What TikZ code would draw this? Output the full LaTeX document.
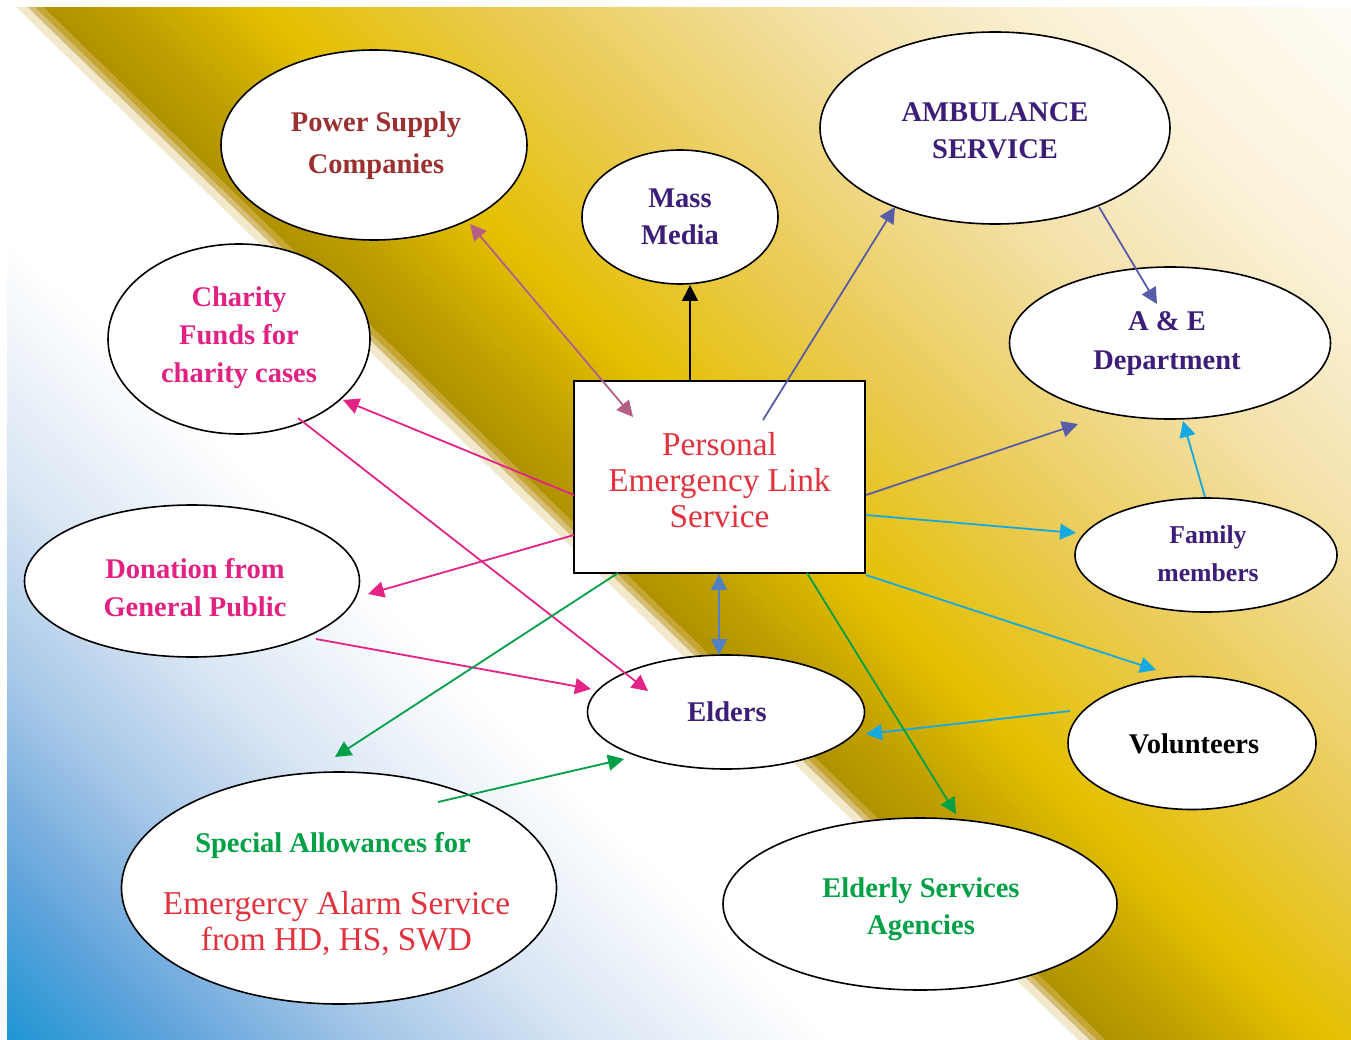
\documentclass[tikz,border=0pt]{standalone}
\usepackage{fontspec}
\setmainfont{Liberation Serif}
\usetikzlibrary{shapes.geometric,arrows.meta}

% text colours
\definecolor{cBrown}{RGB}{155,48,48}
\definecolor{cPurple}{RGB}{60,30,120}
\definecolor{cMagenta}{RGB}{226,34,130}
\definecolor{cGreen}{RGB}{0,160,70}
\definecolor{cRed}{RGB}{225,50,62}
% connector colours
\definecolor{aMauve}{RGB}{180,95,135}
\definecolor{aSlate}{RGB}{88,92,168}
\definecolor{aCyan}{RGB}{20,170,225}
\definecolor{aMag}{RGB}{228,35,135}
\definecolor{aBlue}{RGB}{82,128,196}
\definecolor{aGreen}{RGB}{0,160,70}
% background colours
\definecolor{b1}{RGB}{218,230,244}
\definecolor{b2}{RGB}{168,200,232}
\definecolor{b3}{RGB}{100,165,220}
\definecolor{b4}{RGB}{0,143,208}
\definecolor{e1}{RGB}{242,232,204}
\definecolor{e2}{RGB}{214,190,120}
\definecolor{e3}{RGB}{196,166,50}
\definecolor{g0}{RGB}{176,146,0}
\definecolor{g1}{RGB}{190,158,0}
\definecolor{g2}{RGB}{228,192,0}
\definecolor{g3}{RGB}{234,202,80}
\definecolor{g4}{RGB}{244,226,172}
\definecolor{g5}{RGB}{250,241,215}
\definecolor{g6}{RGB}{255,254,250}

% #1 start v, #2 end v, #3 start colour, #4 end colour, #5 steps, #6 overlap
\newcommand{\gradband}[6]{%
  \foreach \gi in {1,...,#5}{%
    \pgfmathsetmacro\gva{(#1)+((#2)-(#1))*(\gi-1)/#5}%
    \pgfmathsetmacro\gvb{(#1)+((#2)-(#1))*\gi/#5+(#6)}%
    \pgfmathtruncatemacro\gp{100*(\gi-0.5)/#5}%
    \fill[#4!\gp!#3] (-2500pt,\gva pt) rectangle (2500pt,\gvb pt);
  }}

\begin{document}
\begin{tikzpicture}[x=1pt,y=-1pt,
  oval/.style={ellipse,draw=black,line width=1.6pt,fill=white,inner sep=0pt},
  pelsbox/.style={rectangle,draw=black,line width=1.6pt,fill=white,inner sep=0pt,
    minimum width=291pt,minimum height=192pt},
  lbl/.style={font=\fontsize{28.5}{#1}\selectfont\bfseries,align=center,inner sep=0pt},
  famlbl/.style={font=\fontsize{25.7}{#1}\selectfont\bfseries,align=center,inner sep=0pt},
  reglbl/.style={font=\fontsize{33.3}{#1}\selectfont,align=center,inner sep=0pt},
  conn/.style={line width=1.8pt,-{Triangle[length=16pt,width=16pt]}},
  biconn/.style={line width=1.8pt,{Triangle[length=16pt,width=16pt]}-{Triangle[length=16pt,width=16pt]}}
]
\useasboundingbox (0,0) rectangle (1351,1040);
\fill[white] (0,0) rectangle (1351,1040);

% ---------- background ----------
\begin{scope}
\clip (7,8) rectangle (1351,1040);
\begin{scope}[shift={(17,8)},rotate=-44.2]
  \fill[white] (-2500pt,-1300pt) rectangle (2500pt,0pt);
  \gradband{-170}{-340}{white}{b1}{40}{-1}
  \gradband{-340}{-480}{b1}{b2}{35}{-1}
  \gradband{-480}{-620}{b2}{b3}{35}{-1}
  \gradband{-620}{-800}{b3}{b4}{45}{-1}
  \fill[b4] (-2500pt,-799pt) rectangle (2500pt,-1300pt);
  \fill[e1] (-2500pt,0pt) rectangle (2500pt,8pt);
  \fill[e2] (-2500pt,8pt) rectangle (2500pt,13pt);
  \fill[e3] (-2500pt,13pt) rectangle (2500pt,19pt);
  \gradband{19}{70}{g0}{g1}{15}{1}
  \gradband{70}{170}{g1}{g2}{30}{1}
  \gradband{170}{330}{g2}{g3}{40}{1}
  \gradband{330}{560}{g3}{g4}{55}{1}
  \gradband{560}{720}{g4}{g5}{40}{1}
  \gradband{720}{960}{g5}{g6}{50}{1}
  \fill[g6] (-2500pt,959pt) rectangle (2500pt,1500pt);
\end{scope}
\end{scope}

% ---------- nodes ----------
\node[oval,minimum width=306pt,minimum height=190pt] (psc) at (374,145) {};
\node[oval,minimum width=196pt,minimum height=134pt] (mass) at (680,217) {};
\node[oval,minimum width=350pt,minimum height=192pt] (amb) at (995,128) {};
\node[oval,minimum width=321pt,minimum height=152pt] (ae) at (1170,343) {};
\node[oval,minimum width=262pt,minimum height=190pt] (charity) at (239,339) {};
\node[oval,minimum width=335pt,minimum height=152pt] (donation) at (192,581) {};
\node[oval,minimum width=262pt,minimum height=114pt] (family) at (1206,555) {};
\node[oval,minimum width=277pt,minimum height=114pt] (elders) at (726,712) {};
\node[oval,minimum width=248pt,minimum height=133pt] (vol) at (1192,743) {};
\node[oval,minimum width=435pt,minimum height=232pt] (special) at (339,888) {};
\node[oval,minimum width=394pt,minimum height=172pt] (elderly) at (920,904) {};
\node[pelsbox] (pels) at (719.5,477) {};

% ---------- texts ----------
\node[lbl=42,text=cBrown] (psct) at (376,146) {Power Supply\\Companies};
\node[lbl=37,text=cPurple] (masst) at (680,217) {Mass\\Media};
\node[lbl=37,text=cPurple] (ambt) at (995,131) {AMBULANCE\\SERVICE};
\node[lbl=39,text=cPurple] (aet) at (1167,344) {A \& E\\Department};
\node[lbl=38,text=cMagenta] (charityt) at (239,338) {Charity\\Funds for\\charity cases};
\node[lbl=38,text=cMagenta] (donationt) at (195,588) {Donation from\\General Public};
\node[famlbl=38,text=cPurple] (familyt) at (1208,554) {Family\\members};
\node[lbl=38,text=cPurple] (elderst) at (727,712) {Elders};
\node[lbl=38,text=black] (volt) at (1194,744) {Volunteers};
\node[lbl=38,text=cGreen] (specialt) at (333,845) {Special Allowances for};
\node[reglbl=36,text=cRed] (specialtb) at (336.5,923) {Emergercy Alarm Service\\from HD, HS, SWD};
\node[lbl=37,text=cGreen] (elderlyt) at (921,909) {Elderly Services\\Agencies};
\node[reglbl=36,text=cRed] (pelst) at (719.5,480) {Personal\\Emergency Link\\Service};

% ---------- connector ends ----------
\coordinate (psc-a) at (470,224);
\coordinate (pels-a) at (633,417);
\coordinate (pels-top) at (690,381);
\coordinate (mass-a) at (690,285);
\coordinate (pels-b) at (763,420);
\coordinate (amb-a) at (895,207);
\coordinate (amb-b) at (1099,207);
\coordinate (ae-a) at (1157,304);
\coordinate (pels-e1) at (866,495);
\coordinate (ae-b) at (1078,424);
\coordinate (family-a) at (1205,497);
\coordinate (ae-c) at (1183,421);
\coordinate (pels-e2) at (866,515);
\coordinate (family-b) at (1076,533);
\coordinate (pels-e3) at (866,575);
\coordinate (vol-a) at (1156,670);
\coordinate (vol-b) at (1070,711);
\coordinate (elders-a) at (866,734);
\coordinate (pels-w1) at (574,495);
\coordinate (charity-a) at (343,400);
\coordinate (charity-b) at (298,418);
\coordinate (elders-b) at (648,691);
\coordinate (pels-w2) at (574,535);
\coordinate (donation-a) at (368,594);
\coordinate (donation-b) at (316,639);
\coordinate (elders-c) at (591,689);
\coordinate (pels-s1) at (719,574);
\coordinate (elders-top) at (719,655);
\coordinate (pels-s2) at (618,573);
\coordinate (special-a) at (335,757);
\coordinate (special-b) at (438,802);
\coordinate (elders-d) at (624,759);
\coordinate (pels-s3) at (807,573);
\coordinate (elderly-a) at (956,814);

% ---------- connectors ----------
\draw[biconn,aMauve] (psc-a) -- (pels-a);
\draw[conn,black] (pels-top) -- (mass-a);
\draw[conn,aSlate] (pels-b) -- (amb-a);
\draw[conn,aSlate] (amb-b) -- (ae-a);
\draw[conn,aSlate] (pels-e1) -- (ae-b);
\draw[conn,aCyan] (family-a) -- (ae-c);
\draw[conn,aCyan] (pels-e2) -- (family-b);
\draw[conn,aCyan] (pels-e3) -- (vol-a);
\draw[conn,aCyan] (vol-b) -- (elders-a);
\draw[conn,aMag] (pels-w1) -- (charity-a);
\draw[conn,aMag] (charity-b) -- (elders-b);
\draw[conn,aMag] (pels-w2) -- (donation-a);
\draw[conn,aMag] (donation-b) -- (elders-c);
\draw[biconn,aBlue] (pels-s1) -- (elders-top);
\draw[conn,aGreen] (pels-s2) -- (special-a);
\draw[conn,aGreen] (special-b) -- (elders-d);
\draw[conn,aGreen] (pels-s3) -- (elderly-a);
\end{tikzpicture}
\end{document}
